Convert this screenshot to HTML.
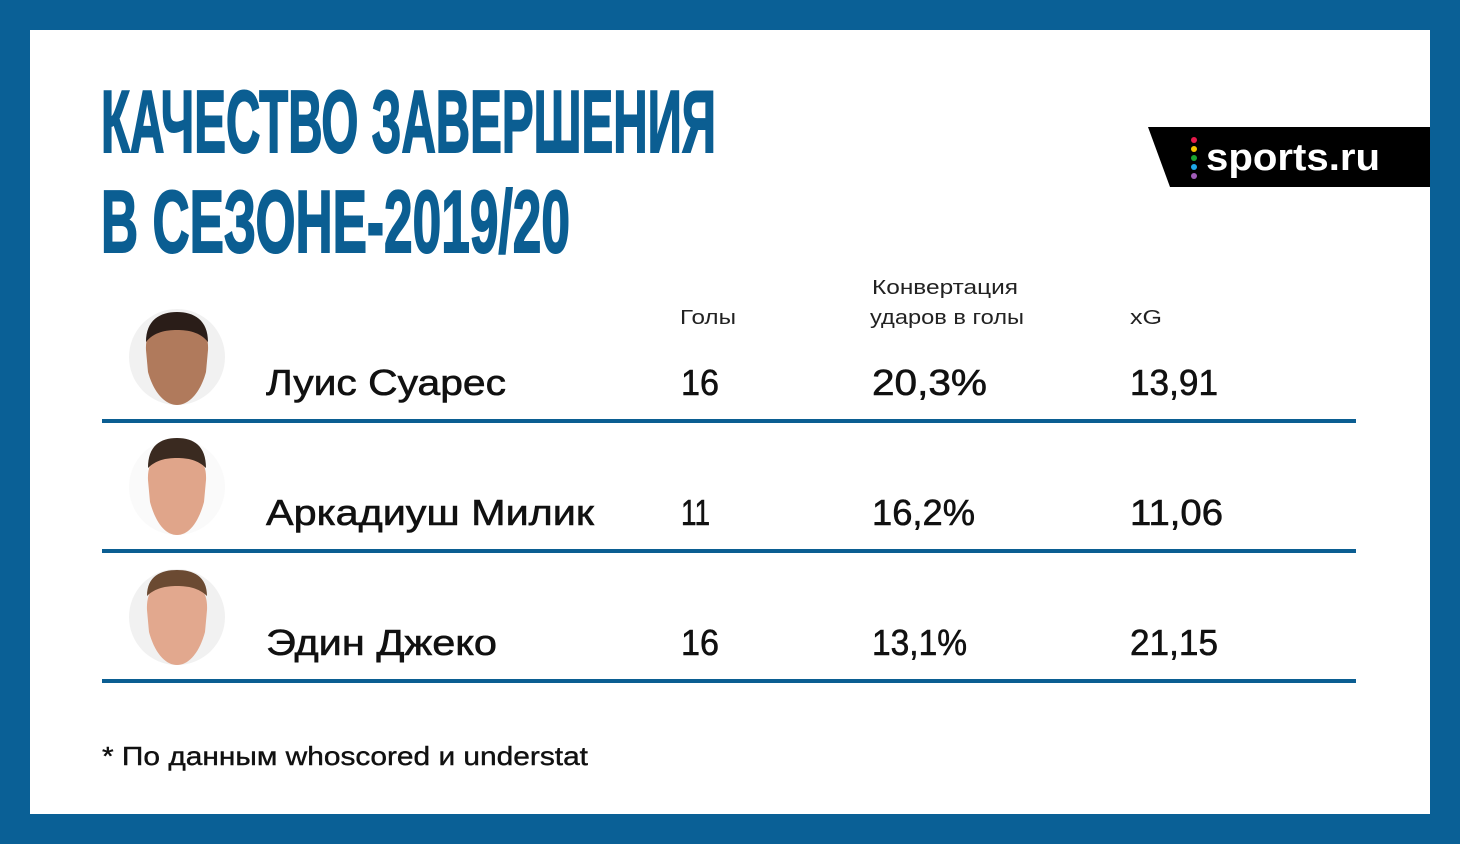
<!DOCTYPE html>
<html><head><meta charset="utf-8"><style>html,body{margin:0;padding:0;background:#0a6096}svg{display:block}</style></head>
<body>
<svg width="1460" height="844" xmlns="http://www.w3.org/2000/svg" font-family="Liberation Sans, sans-serif">
<rect width="1460" height="844" fill="#0a6096"/>
<rect x="30" y="30" width="1400" height="784" fill="#fff"/>
<g fill="#0b5e92" stroke="#0b5e92" stroke-width="2" font-family="Liberation Sans Narrow, Liberation Sans, sans-serif" font-weight="bold">
<text x="101" y="152" font-size="88" textLength="615" lengthAdjust="spacingAndGlyphs">КАЧЕСТВО ЗАВЕРШЕНИЯ</text>
<text x="101" y="252" font-size="88" textLength="469" lengthAdjust="spacingAndGlyphs">В СЕЗОНЕ-2019/20</text>
</g>
<polygon points="1148,127 1430,127 1430,187 1170,187" fill="#000"/>
<circle cx="1194" cy="140" r="3" fill="#e6194b"/><circle cx="1194" cy="149" r="3" fill="#f5c400"/><circle cx="1194" cy="158" r="3" fill="#1aa531"/><circle cx="1194" cy="167" r="3" fill="#1ea7e8"/><circle cx="1194" cy="176" r="3" fill="#a05cb8"/>
<text x="1206" y="170" font-size="38" font-weight="bold" fill="#fff" textLength="174" lengthAdjust="spacingAndGlyphs">sports.ru</text>
<g fill="#222" font-size="20">
<text x="680" y="324" textLength="56" lengthAdjust="spacingAndGlyphs">Голы</text>
<text x="872" y="294" textLength="146" lengthAdjust="spacingAndGlyphs">Конвертация</text>
<text x="870" y="324" textLength="154" lengthAdjust="spacingAndGlyphs">ударов в голы</text>
<text x="1130" y="324" textLength="32" lengthAdjust="spacingAndGlyphs">xG</text>
</g>
<g fill="#0b5e92">
<rect x="102" y="419" width="1254" height="4"/>
<rect x="102" y="549" width="1254" height="4"/>
<rect x="102" y="679" width="1254" height="4"/>
</g>
<g>
<circle cx="177" cy="357" r="48" fill="#f1f1f1"/>
<path d="M177,318 c-22,0 -32,14 -31,32 l2,22 c6,22 18,33 29,33 c11,0 23,-11 29,-33 l2,-22 c1,-18 -9,-32 -31,-32z" fill="#b07a5c"/>
<path d="M146,342 c0,-22 14,-30 31,-30 c17,0 31,8 31,30 c-8,-10 -20,-12 -31,-12 c-11,0 -23,2 -31,12z" fill="#2a1d18"/>
<circle cx="177" cy="487" r="48" fill="#fafafa"/>
<path d="M177,448 c-20,0 -30,14 -29,32 l2,22 c6,22 16,33 27,33 c11,0 21,-11 27,-33 l2,-22 c1,-18 -9,-32 -29,-32z" fill="#e0a58a"/>
<path d="M148,468 c0,-22 12,-30 29,-30 c17,0 29,8 29,30 c-8,-8 -18,-10 -29,-10 c-11,0 -21,2 -29,10z" fill="#3a2a20"/>
<circle cx="177" cy="617" r="48" fill="#f1f1f1"/>
<path d="M177,578 c-22,0 -31,14 -30,32 l2,22 c6,22 17,33 28,33 c11,0 22,-11 28,-33 l2,-22 c1,-18 -8,-32 -30,-32z" fill="#e2a88e"/>
<path d="M147,596 c0,-20 14,-26 30,-26 c16,0 30,6 30,26 c-8,-8 -19,-10 -30,-10 c-11,0 -22,2 -30,10z" fill="#6b4a32"/>
</g>
<g fill="#111" stroke="#111" stroke-width="0.6" font-size="36">
<text x="266" y="395" textLength="240" lengthAdjust="spacingAndGlyphs">Луис Суарес</text>
<text x="681" y="395" textLength="38" lengthAdjust="spacingAndGlyphs">16</text>
<text x="872" y="395" textLength="115" lengthAdjust="spacingAndGlyphs">20,3%</text>
<text x="1130" y="395" textLength="88" lengthAdjust="spacingAndGlyphs">13,91</text>
<text x="266" y="525" textLength="328" lengthAdjust="spacingAndGlyphs">Аркадиуш Милик</text>
<text x="681" y="525" textLength="29" lengthAdjust="spacingAndGlyphs">11</text>
<text x="872" y="525" textLength="103" lengthAdjust="spacingAndGlyphs">16,2%</text>
<text x="1130" y="525" textLength="93" lengthAdjust="spacingAndGlyphs">11,06</text>
<text x="266" y="655" textLength="231" lengthAdjust="spacingAndGlyphs">Эдин Джеко</text>
<text x="681" y="655" textLength="38" lengthAdjust="spacingAndGlyphs">16</text>
<text x="872" y="655" textLength="95" lengthAdjust="spacingAndGlyphs">13,1%</text>
<text x="1130" y="655" textLength="88" lengthAdjust="spacingAndGlyphs">21,15</text>
</g>
<text x="102" y="765" font-size="26" fill="#111" stroke="#111" stroke-width="0.4" textLength="486" lengthAdjust="spacingAndGlyphs">* По данным whoscored и understat</text>
</svg>
</body></html>
